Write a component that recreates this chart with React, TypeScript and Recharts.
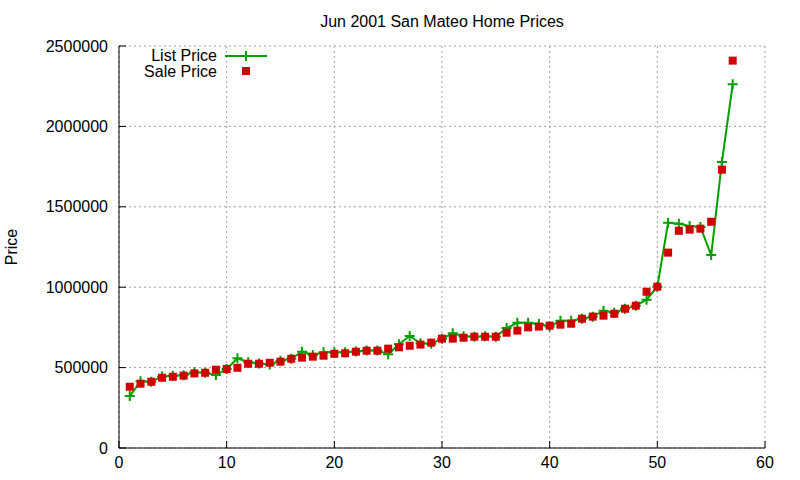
import React from "react";
import { ComposedChart, Line, XAxis, YAxis, CartesianGrid } from "recharts";

const homeIndex = [
  1, 2, 3, 4, 5, 6, 7, 8, 9, 10, 11, 12, 13, 14, 15, 16, 17, 18, 19, 20,
  21, 22, 23, 24, 25, 26, 27, 28, 29, 30, 31, 32, 33, 34, 35, 36, 37, 38, 39, 40,
  41, 42, 43, 44, 45, 46, 47, 48, 49, 50, 51, 52, 53, 54, 55, 56, 57,
];

const listPrice = [
  323000, 415000, 412000, 445000, 449000, 452000, 471000, 468000, 454000, 491000,
  558000, 533000, 526000, 520000, 543000, 555000, 599000, 578000, 595000, 595000,
  595000, 600000, 607000, 607000, 583000, 645000, 697000, 651000, 648000, 680000,
  713000, 695000, 692000, 695000, 692000, 746000, 779000, 779000, 771000, 755000,
  792000, 792000, 804000, 817000, 854000, 841000, 866000, 885000, 922000, 1003000,
  1401000, 1395000, 1380000, 1375000, 1200000, 1779000, 2262000,
];

const salePrice = [
  381000, 400000, 412000, 437000, 443000, 450000, 464000, 468000, 487000, 491000,
  499000, 524000, 524000, 530000, 537000, 555000, 562000, 568000, 574000, 586000,
  589000, 599000, 605000, 605000, 618000, 626000, 636000, 643000, 655000, 680000,
  680000, 686000, 692000, 692000, 692000, 717000, 730000, 750000, 755000, 761000,
  767000, 773000, 804000, 817000, 823000, 835000, 866000, 885000, 972000, 1003000,
  1215000, 1351000, 1358000, 1364000, 1407000, 1731000, 2409000,
];

const xTicks = [0, 10, 20, 30, 40, 50, 60];
const yTicks = [0, 500000, 1000000, 1500000, 2000000, 2500000];

const GREEN = "#00a000";
const RED = "#d00000";
const FONT = "'Liberation Sans', Arial, sans-serif";

const data = homeIndex.map((x, i) => ({ x, list: listPrice[i], sale: salePrice[i] }));

const PlusDot = (props: any) => {
  const { cx, cy } = props;
  if (cx == null || cy == null) return null;
  return (
    <path
      d={`M${cx - 5},${cy}h10M${cx},${cy - 5}v10`}
      stroke={GREEN}
      strokeWidth={2}
      fill="none"
    />
  );
};

const SquareDot = (props: any) => {
  const { cx, cy } = props;
  if (cx == null || cy == null) return null;
  return <rect x={cx - 4} y={cy - 4} width={8} height={8} fill={RED} />;
};

const tickStyle = { fontSize: 16, fill: "#000", fontFamily: FONT };

export default function App() {
  return (
    <div
      style={{
        position: "absolute",
        left: 0,
        top: 0,
        width: 800,
        height: 480,
        background: "#fff",
        fontFamily: FONT,
      }}
    >
      <ComposedChart
        width={800}
        height={480}
        data={data}
        margin={{ top: 46, right: 35, bottom: 0, left: 0 }}
      >
        <CartesianGrid stroke="#a0a0a0" strokeDasharray="2 3" />
        <XAxis
          type="number"
          dataKey="x"
          domain={[0, 60]}
          ticks={xTicks}
          height={32}
          tickSize={-7}
          tickMargin={16}
          tick={tickStyle}
          axisLine={{ stroke: "#000" }}
          tickLine={{ stroke: "#000" }}
        />
        <XAxis
          xAxisId="top"
          orientation="top"
          type="number"
          domain={[0, 60]}
          ticks={xTicks}
          height={0}
          tickSize={-7}
          tick={false}
          axisLine={{ stroke: "#000" }}
          tickLine={{ stroke: "#000" }}
        />
        <YAxis
          type="number"
          domain={[0, 2500000]}
          ticks={yTicks}
          width={119}
          tickSize={-7}
          tickMargin={18}
          tick={tickStyle}
          axisLine={{ stroke: "#000" }}
          tickLine={{ stroke: "#000" }}
        />
        <YAxis
          yAxisId="right"
          orientation="right"
          type="number"
          domain={[0, 2500000]}
          ticks={yTicks}
          width={0}
          tickSize={-7}
          tick={false}
          axisLine={{ stroke: "#000" }}
          tickLine={{ stroke: "#000" }}
        />
        <Line
          dataKey="list"
          type="linear"
          stroke={GREEN}
          strokeWidth={2}
          dot={<PlusDot />}
          activeDot={false}
          isAnimationActive={false}
        />
        <Line
          dataKey="sale"
          type="linear"
          stroke="none"
          dot={<SquareDot />}
          activeDot={false}
          isAnimationActive={false}
        />
      </ComposedChart>

      <div
        style={{
          position: "absolute",
          left: 119,
          width: 646,
          top: 13,
          textAlign: "center",
          fontSize: 16,
        }}
      >
        Jun 2001 San Mateo Home Prices
      </div>
      <div
        style={{
          position: "absolute",
          left: 12,
          top: 247,
          fontSize: 16,
          transform: "translate(-50%, -50%) rotate(-90deg)",
        }}
      >
        Price
      </div>

      <div style={{ position: "absolute", right: 800 - 217, top: 48, fontSize: 16, textAlign: "right", lineHeight: "16px" }}>
        List Price
      </div>
      <div style={{ position: "absolute", right: 800 - 217, top: 64, fontSize: 16, textAlign: "right", lineHeight: "16px" }}>
        Sale Price
      </div>
      <svg style={{ position: "absolute", left: 0, top: 0 }} width={800} height={480} pointerEvents="none">
        <line x1={225} x2={267} y1={56} y2={56} stroke={GREEN} strokeWidth={2} />
        <PlusDot cx={246} cy={56} />
        <SquareDot cx={246} cy={71} />
      </svg>
    </div>
  );
}
